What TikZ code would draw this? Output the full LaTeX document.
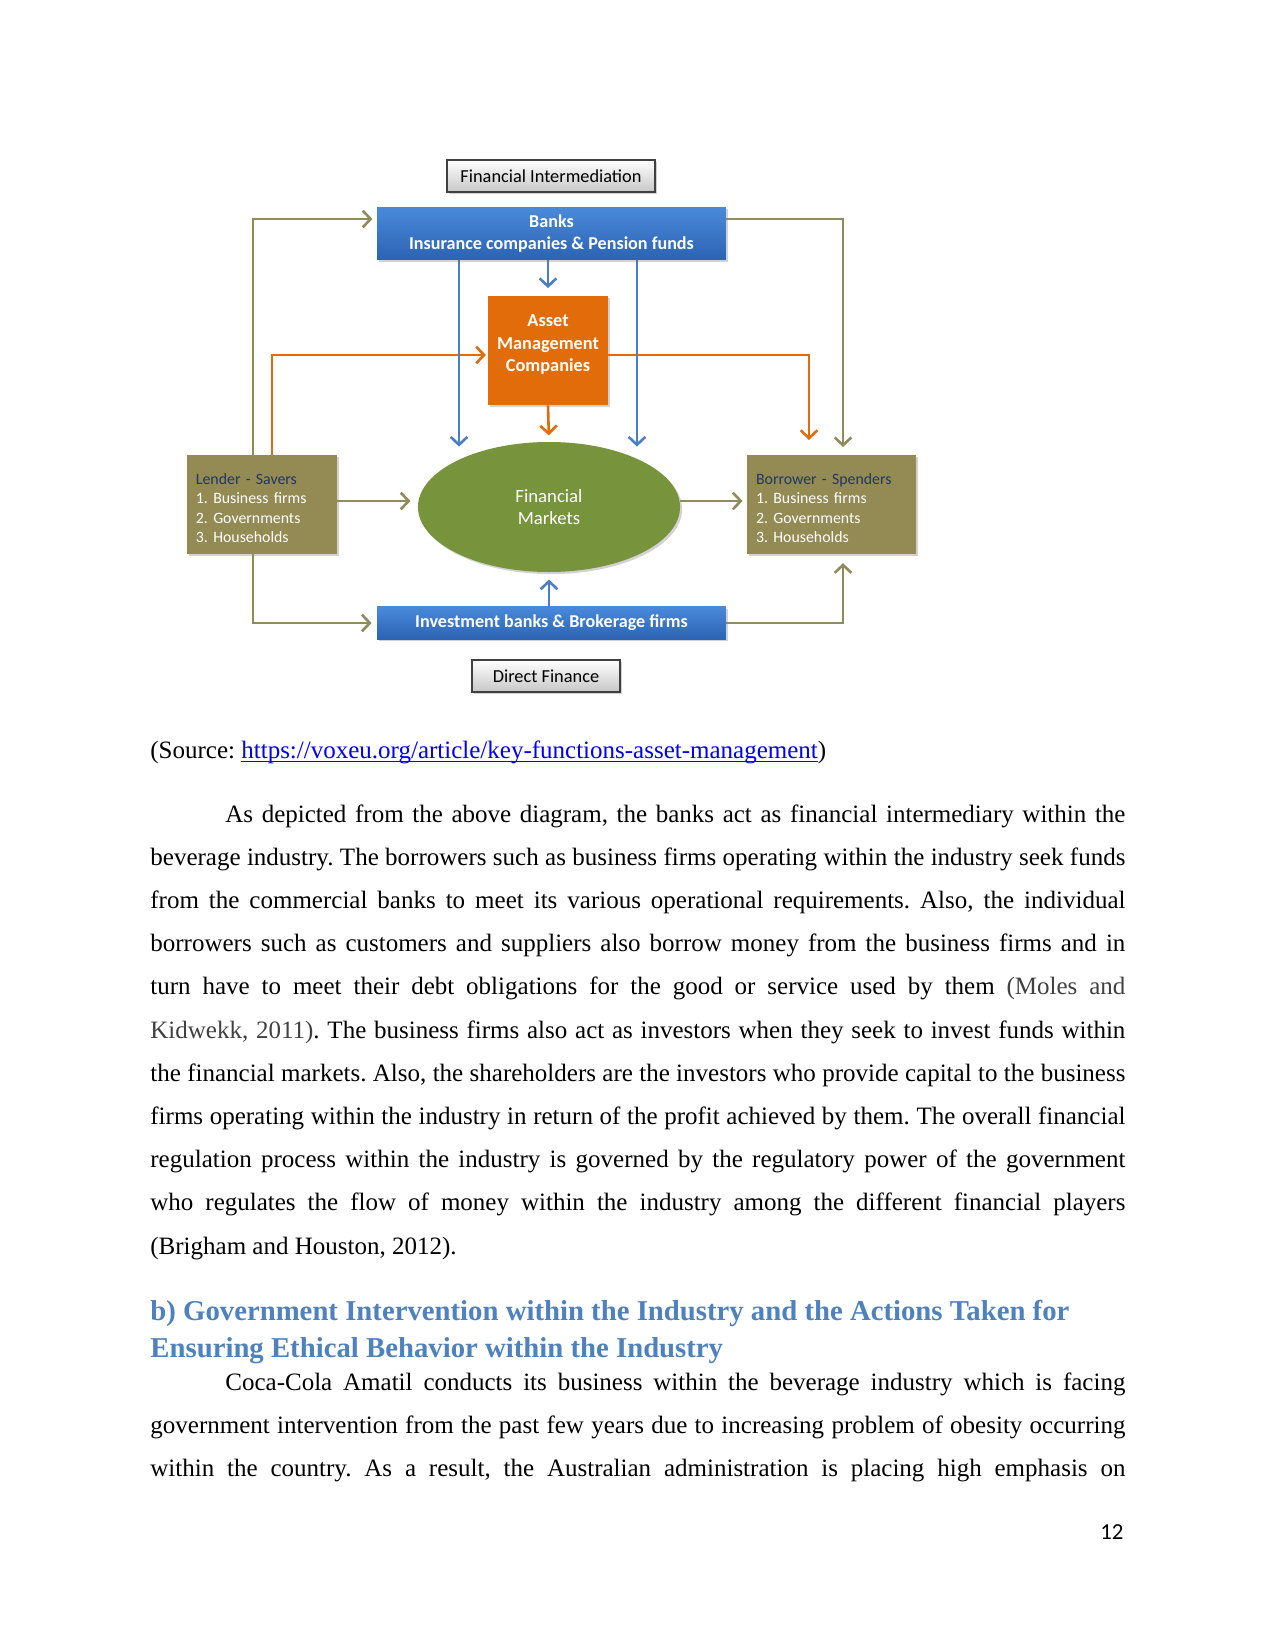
\documentclass[tikz,border=0pt]{standalone}
\usepackage{fontspec}
\setmainfont{Liberation Serif}
\newfontfamily\calfont{Carlito}
\usetikzlibrary{arrows.meta,shadows,shapes.geometric}
\newcommand\myul[1]{\setbox0\hbox{#1}\rlap{\rule[-1.8pt]{\wd0}{0.6pt}}\box0}
\definecolor{cBlueTop}{HTML}{4A89DA}
\definecolor{cBlueBot}{HTML}{2C63B3}
\definecolor{cOrange}{HTML}{E36C0A}
\definecolor{cGreen}{HTML}{77933C}
\definecolor{cOliveBox}{HTML}{948A54}
\definecolor{cOliveLine}{HTML}{8E8C5C}
\definecolor{cBlueLine}{HTML}{4A7EC6}
\definecolor{cNavy}{HTML}{1F3864}
\definecolor{cHead}{HTML}{4F81BD}
\definecolor{cLink}{HTML}{0000EE}
\definecolor{cCite}{HTML}{404040}
\frenchspacing
\begin{document}
\frenchspacing
\begin{tikzpicture}[x=0.48pt,y=-0.48pt,
  shad/.style={drop shadow={opacity=0.35,shadow xshift=1pt,shadow yshift=-1pt}},
  labelbox/.style={rectangle,draw=black!75,line width=0.8pt,top color=white,bottom color=black!22,shad,
    inner sep=0pt,font=\calfont\fontsize{8.8}{10}\selectfont},
  bluebox/.style={rectangle,top color=cBlueTop,bottom color=cBlueBot,shad,text=white,align=center,
    inner sep=0pt,font=\calfont\bfseries\fontsize{8.7}{10.5}\selectfont},
  orangebox/.style={rectangle,fill=cOrange,shad,text=white,align=center,
    inner sep=0pt,font=\calfont\bfseries\fontsize{8.8}{10.8}\selectfont},
  marketnode/.style={ellipse,fill=cGreen,shad,text=white,align=center,
    inner sep=0pt,font=\calfont\fontsize{9}{10.5}\selectfont},
  olivebox/.style={rectangle,fill=cOliveBox,shad,text=white,align=left,
    inner xsep=4.3pt,inner ysep=0pt,font=\calfont\fontsize{7.6}{9.4}\selectfont},
  conn/.style={line width=1.25pt,-{Straight Barb[length=3.8pt,width=8pt]}},
  garr/.style={conn,draw=cOliveLine},
  barr/.style={conn,draw=cBlueLine},
  oarr/.style={conn,draw=cOrange},
  bodyline/.style={anchor=base west,inner sep=0pt,font=\fontsize{12}{14}\selectfont},
  headline/.style={anchor=base west,inner sep=0pt,text=cHead,font=\bfseries\fontsize{13.8}{15}\selectfont}
]
\useasboundingbox[fill=white] (0,0) rectangle (1275,1651);

% ---------- diagram nodes ----------
\node[labelbox,minimum width=99.8pt,minimum height=15.4pt] (fi) at (551,176) {Financial Intermediation};
\node[bluebox,minimum width=167.5pt,minimum height=25.4pt] (banks) at (551.5,233.5) {Banks\\Insurance companies \& Pension funds};
\node[orangebox,minimum width=57.6pt,minimum height=52.3pt] (asset) at (548,350.5) {Asset\\Management\\Companies\rule[-7pt]{0pt}{0pt}};
\node[marketnode,minimum width=125.8pt,minimum height=62.4pt] (fm) at (549,507) {Financial\\Markets};
\node[olivebox,minimum width=72pt,minimum height=47.5pt,text width=63.4pt] (lender) at (262,504.5)
  {\rule{0pt}{8.8pt}{\color{cNavy}Lender - Savers}\\1. Business firms\\2. Governments\\3. Households};
\node[olivebox,minimum width=81pt,minimum height=47.5pt,text width=72.4pt] (borrower) at (831.5,504.5)
  {\rule{0pt}{8.8pt}{\color{cNavy}Borrower - Spenders}\\1. Business firms\\2. Governments\\3. Households};
\node[bluebox,minimum width=167.5pt,minimum height=15.4pt] (invest) at (551.5,623) {Investment banks \& Brokerage firms};
\node[labelbox,minimum width=71pt,minimum height=15.4pt] (df) at (546,676) {Direct Finance};

% ---------- guide coordinates ----------
\coordinate (xgl) at (253,0);
\coordinate (xgr) at (843,0);
\coordinate (xol) at (272,0);
\coordinate (xor) at (809,0);
\coordinate (xbl) at (459,0);
\coordinate (xbr) at (637,0);
\coordinate (ytop) at (0,219);
\coordinate (yor) at (0,355);
\coordinate (ylf) at (0,501);

% ---------- connectors ----------
\draw[oarr,shorten >=0.8pt] (lender.north -| xol) |- (asset.west |- yor);
\draw[oarr,shorten >=7pt] (asset.east |- yor) -| (borrower.north -| xor);
\draw[oarr,shorten >=3pt] (asset.south) -- (fm.north);

\draw[barr,shorten >=-2.4pt] (banks.south -| xbl) -- (xbl |- fm.north);
\draw[barr,shorten >=-2.4pt] (banks.south -| xbr) -- (xbr |- fm.north);
\draw[barr,shorten >=3.6pt] (banks.south -| asset.north) -- (asset.north);
\draw[barr,shorten >=3.4pt] (invest.north -| fm.south) -- (fm.south);

\draw[garr,shorten >=2pt] (lender.north -| xgl) |- (banks.west |- ytop);
\draw[garr,shorten >=3.6pt] (banks.east |- ytop) -| (borrower.north -| xgr);
\draw[garr,shorten >=2.4pt] (lender.south -| xgl) |- (invest.west);
\draw[garr,shorten >=4.2pt] (invest.east) -| (borrower.south -| xgr);
\draw[garr,shorten >=3.4pt] (lender.east |- ylf) -- (fm.west |- ylf);
\draw[garr,shorten >=2pt] (fm.east |- ylf) -- (borrower.west |- ylf);

% ---------- page text ----------
\node[bodyline] (src) at (150,758) {(Source: \textcolor{cLink}{\myul{https://voxeu.org/article/key-functions-asset-management}})};

\node[bodyline] (p1l1) at (225,822) {\makebox[432pt][s]{As depicted from the above diagram, the banks act as financial intermediary within the}};
\node[bodyline] (p1l2) at (150,865.2) {\makebox[468pt][s]{beverage industry. The borrowers such as business firms operating within the industry seek funds}};
\node[bodyline] (p1l3) at (150,908.4) {\makebox[468pt][s]{from the commercial banks to meet its various operational requirements. Also, the individual}};
\node[bodyline] (p1l4) at (150,951.6) {\makebox[468pt][s]{borrowers such as customers and suppliers also borrow money from the business firms and in}};
\node[bodyline] (p1l5) at (150,994.8) {\makebox[468pt][s]{turn have to meet their debt obligations for the good or service used by them \textcolor{cCite}{(Moles} \textcolor{cCite}{and}}};
\node[bodyline] (p1l6) at (150,1038) {\makebox[468pt][s]{\textcolor{cCite}{Kidwekk,} \textcolor{cCite}{2011)}. The business firms also act as investors when they seek to invest funds within}};
\node[bodyline] (p1l7) at (150,1081.2) {\makebox[468pt][s]{the financial markets. Also, the shareholders are the investors who provide capital to the business}};
\node[bodyline] (p1l8) at (150,1124.4) {\makebox[468pt][s]{firms operating within the industry in return of the profit achieved by them. The overall financial}};
\node[bodyline] (p1l9) at (150,1167.6) {\makebox[468pt][s]{regulation process within the industry is governed by the regulatory power of the government}};
\node[bodyline] (p1l10) at (150,1210.8) {\makebox[468pt][s]{who regulates the flow of money within the industry among the different financial players}};
\node[bodyline] (p1l11) at (150,1254) {(Brigham and Houston, 2012).};

\node[headline] (h1) at (150,1320) {b) Government Intervention within the Industry and the Actions Taken for};
\node[headline] (h2) at (150,1357) {Ensuring Ethical Behavior within the Industry};

\node[bodyline] (p2l1) at (225,1390.4) {\makebox[432pt][s]{Coca-Cola Amatil conducts its business within the beverage industry which is facing}};
\node[bodyline] (p2l2) at (150,1433.6) {\makebox[468pt][s]{government intervention from the past few years due to increasing problem of obesity occurring}};
\node[bodyline] (p2l3) at (150,1476.8) {\makebox[468pt][s]{within the country. As a result, the Australian administration is placing high emphasis on}};

\node[anchor=base east,inner sep=0pt,font=\calfont\fontsize{11}{13}\selectfont] (pg) at (1124,1539) {12};
\end{tikzpicture}
\end{document}
